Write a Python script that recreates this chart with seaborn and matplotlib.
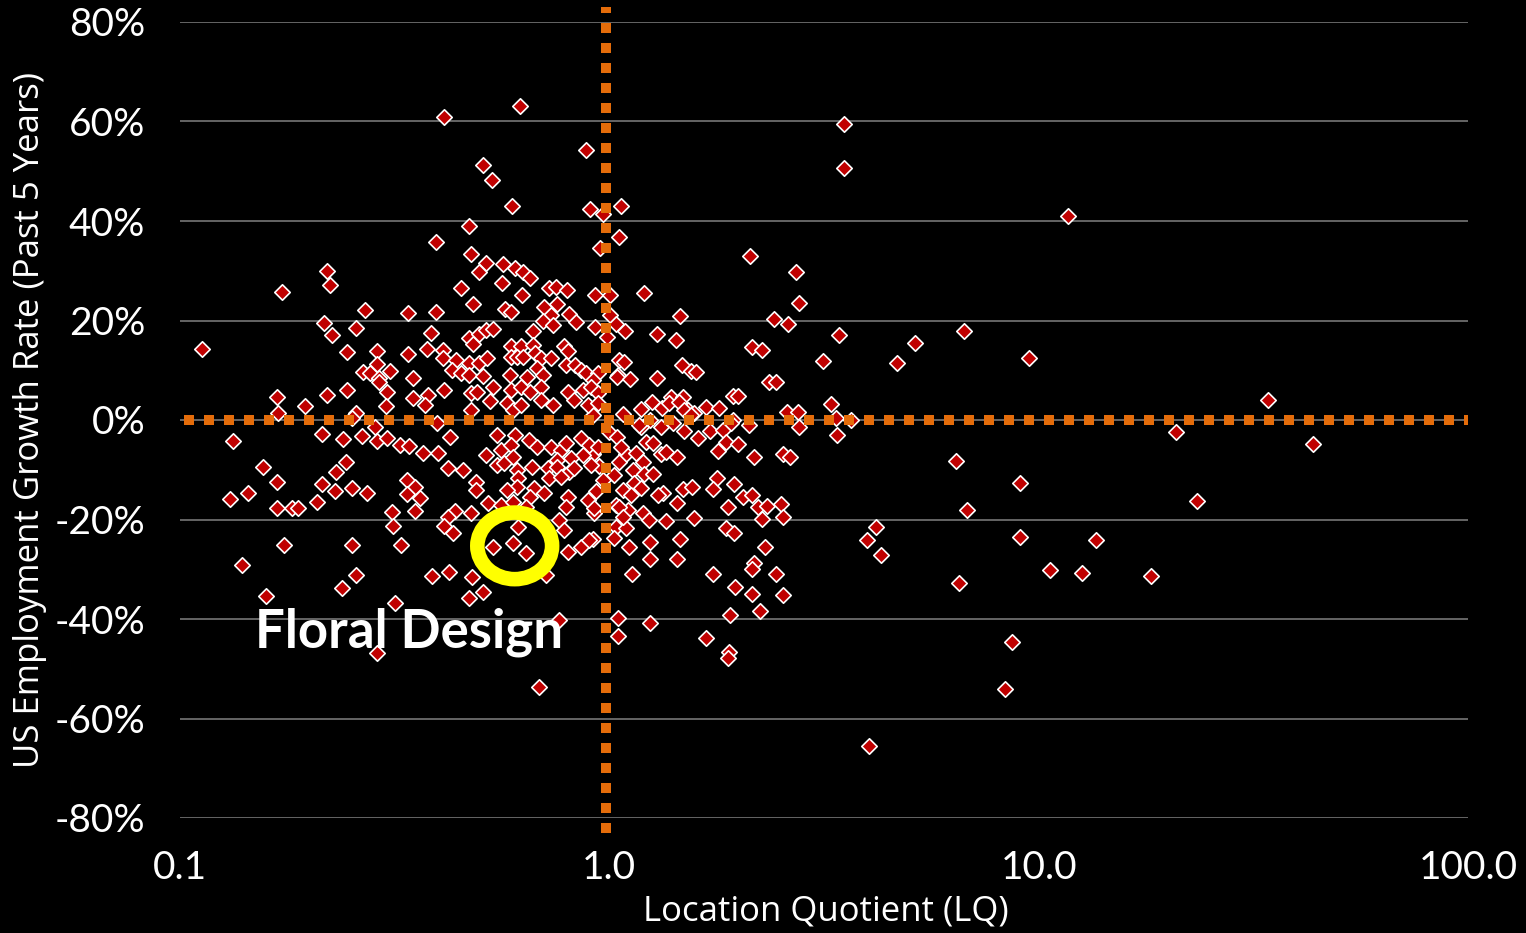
import matplotlib
matplotlib.use("Agg")
import matplotlib.pyplot as plt
import numpy as np
import pandas as pd
import seaborn as sns
from matplotlib.path import Path
from matplotlib.transforms import Affine2D
from matplotlib.ticker import FixedLocator, NullLocator, FuncFormatter

# ---------------- data (LQ, growth %) ----------------
pts_far_left = [
    (0.1125, 14.3), (0.173, 25.7), (0.220, 30.0), (0.224, 27.1), (0.217, 19.5), (0.226, 17.1),
    (0.257, 18.5), (0.270, 22.1), (0.245, 13.7), (0.287, 13.9), (0.267, 9.6), (0.277, 9.4),
    (0.287, 11.3), (0.309, 9.8), (0.290, 8.4), (0.340, 21.5), (0.340, 13.3), (0.349, 8.4),
    (0.377, 14.3),
    (0.168, 4.6), (0.169, 1.4), (0.195, 2.8), (0.220, 5.0), (0.245, 6.0), (0.290, 7.6),
    (0.304, 5.6), (0.302, 2.8), (0.257, 1.4), (0.252, 0.4), (0.285, -1.4), (0.288, -4.2),
    (0.304, -3.6), (0.266, -3.2), (0.240, -3.8), (0.214, -2.8), (0.133, -4.2), (0.326, -5.0),
    (0.342, -5.2), (0.156, -9.4), (0.168, -12.5), (0.131, -15.9), (0.144, -14.7), (0.168, -17.7),
    (0.182, -17.7), (0.188, -17.7), (0.208, -16.5), (0.214, -12.9), (0.231, -10.5), (0.244, -8.4),
    (0.230, -14.3), (0.251, -13.7), (0.272, -14.7), (0.312, -18.5), (0.314, -21.3), (0.338, -12.1),
    (0.353, -13.5), (0.338, -14.9), (0.363, -15.7), (0.353, -18.3), (0.175, -25.1), (0.251, -25.1),
    (0.328, -25.1), (0.1395, -29.1), (0.257, -31.2), (0.239, -33.8), (0.159, -35.4), (0.317, -36.8),
    (0.288, -46.8),
]

pts_upper_mid = [
    (0.413, 60.9), (0.618, 63.1), (0.881, 54.3), (0.509, 51.3), (0.534, 48.2), (0.592, 43.0),
    (0.900, 42.4), (0.965, 41.4), (1.063, 43.0), (0.472, 39.0), (0.395, 35.8), (1.052, 36.8),
    (0.950, 34.6), (0.477, 33.4), (0.515, 31.6), (0.496, 29.7), (0.564, 31.4), (0.604, 30.6),
    (0.628, 29.7), (0.652, 28.5), (0.452, 26.5), (0.561, 27.5), (0.625, 25.1), (0.722, 26.5),
    (0.750, 26.7), (0.795, 26.1), (0.924, 25.1), (1.002, 25.1), (0.482, 23.3), (0.395, 21.7),
    (0.570, 22.3), (0.589, 21.7), (0.703, 22.7), (0.730, 21.1), (0.757, 23.3), (0.804, 21.3),
    (0.837, 19.7), (0.699, 19.9), (0.740, 19.1), (0.665, 17.9), (0.924, 18.7), (1.002, 21.1),
    (1.035, 19.3), (1.086, 17.9), (0.986, 16.7), (0.385, 17.5), (0.409, 14.1), (0.409, 12.5),
    (0.440, 12.1), (0.472, 16.5), (0.482, 15.3), (0.496, 17.3), (0.515, 18.1), (0.537, 18.3),
    (0.589, 14.9), (0.621, 14.9), (0.665, 15.1), (0.783, 14.9), (0.800, 13.9), (0.589, 12.7),
    (0.610, 12.7), (0.631, 12.7), (0.670, 13.5), (0.692, 12.5), (0.730, 12.5), (0.470, 11.5),
    (0.496, 11.5), (0.518, 12.5), (0.431, 10.1), (0.452, 9.4), (0.470, 9.0), (0.509, 8.8),
    (0.586, 9.0), (0.642, 8.6), (0.677, 10.5), (0.699, 9.0), (0.791, 11.1), (0.830, 11.1),
    (0.858, 10.1), (0.881, 9.4), (0.940, 9.4), (1.051, 12.1), (1.080, 11.7), (1.046, 9.0),
]

pts_upper_right = [
    (2.126, 33.0), (2.723, 29.7), (2.767, 23.5), (1.203, 25.5), (1.460, 20.9), (2.414, 20.3),
    (2.608, 19.3), (1.290, 17.3), (1.428, 16.1), (3.431, 17.1), (2.150, 14.7), (2.268, 14.1),
    (3.149, 11.9), (1.476, 11.1), (1.549, 9.8), (1.591, 9.6), (1.040, 8.6), (1.116, 8.2),
    (1.290, 8.4), (2.355, 7.6), (2.444, 7.6), (0.915, 8.0), (1.391, 4.6), (1.484, 4.6),
    (1.255, 3.6), (1.184, 2.2), (1.325, 2.4), (1.678, 2.6), (1.800, 2.4), (1.937, 4.8),
    (1.994, 4.8), (3.287, 3.2), (2.594, 1.6), (2.752, 1.6), (1.524, 2.0), (1.574, 1.4),
    (1.074, 1.2), (1.243, 0.0), (1.184, -1.4), (1.937, 0.0), (3.374, 0.4), (2.767, -1.4),
]

pts_lower_right = [
    (1.376, 3.4), (1.452, 3.6), (1.492, 2.0), (1.549, 1.0), (0.915, 1.0), (1.171, -1.0),
    (1.318, -1.4), (1.410, -0.6), (1.492, -2.2), (1.715, -2.2), (1.840, -2.0), (1.920, -0.6),
    (2.115, -1.0), (3.394, -3.0), (0.997, -2.4), (1.040, -3.4), (1.216, -4.4), (1.263, -4.6),
    (1.608, -3.6), (1.869, -4.4), (1.994, -4.8), (1.791, -6.2), (0.915, -6.8), (1.092, -6.8),
    (1.151, -6.6), (1.051, -8.4), (1.197, -8.4), (1.318, -6.8), (1.354, -6.4), (1.441, -7.4),
    (2.170, -7.4), (2.539, -6.8), (2.637, -7.4), (0.944, -9.2), (1.024, -11.1), (1.134, -10.1),
    (1.203, -10.9), (1.263, -10.9), (0.966, -12.1), (1.140, -12.7), (1.780, -11.7), (1.948, -12.9),
    (1.743, -13.9), (1.484, -13.9), (1.557, -13.5), (1.074, -14.1), (1.122, -15.1), (1.184, -13.7),
    (1.332, -14.7), (1.297, -15.1), (2.048, -15.5), (2.150, -15.1), (0.930, -14.3), (1.441, -16.7),
    (1.890, -17.5), (2.220, -17.5), (2.332, -17.3), (2.512, -16.9), (1.035, -17.1), (1.104, -18.1),
    (0.920, -18.7), (1.197, -18.7), (1.236, -20.1), (1.354, -20.3), (1.574, -19.7), (2.268, -19.9),
    (2.539, -19.5), (1.035, -21.5), (1.092, -21.7), (1.869, -21.7), (1.948, -22.7), (1.024, -23.7),
    (0.915, -23.9), (1.110, -25.5), (1.243, -24.5), (1.460, -23.9), (2.305, -25.5), (1.243, -27.9),
    (1.441, -27.9), (2.170, -28.7), (2.150, -29.9), (2.444, -31.0), (1.128, -31.0), (1.743, -31.0),
    (1.961, -33.6), (2.150, -35.0), (2.539, -35.2), (2.245, -38.4), (1.910, -39.2), (1.046, -39.8),
    (1.243, -40.8), (1.046, -43.4), (1.678, -43.8), (1.900, -46.6), (1.890, -47.8),
]

pts_lower_mid = [
    (0.348, 4.4), (0.379, 5.0), (0.373, 3.0), (0.411, 6.0), (0.475, 5.4), (0.493, 5.6),
    (0.526, 3.8), (0.537, 6.6), (0.477, 2.0), (0.579, 3.4), (0.598, 2.0), (0.621, 3.0),
    (0.589, 6.0), (0.621, 6.6), (0.655, 5.6), (0.692, 6.6), (0.692, 4.0), (0.738, 3.0),
    (0.800, 5.6), (0.826, 4.0), (0.867, 6.0), (0.905, 6.6), (0.940, 5.4), (0.890, 3.0),
    (0.940, 3.4), (0.396, -0.6), (0.4265, -3.4), (0.369, -6.6), (0.398, -6.6), (0.420, -9.6),
    (0.457, -10.1), (0.548, -3.0), (0.604, -3.0), (0.649, -4.0), (0.680, -5.4), (0.515, -7.0),
    (0.558, -6.0), (0.589, -5.0), (0.548, -9.0), (0.567, -8.6), (0.611, -10.1), (0.662, -9.4),
    (0.614, -11.7), (0.611, -13.5), (0.595, -7.4), (0.730, -5.4), (0.770, -6.0), (0.757, -8.0),
    (0.791, -4.6), (0.719, -9.6), (0.757, -9.4), (0.804, -10.5), (0.722, -11.7), (0.770, -11.5),
    (0.858, -3.6), (0.895, -5.0), (0.940, -5.4), (0.867, -7.0), (0.905, -9.0), (0.813, -7.6),
    (0.826, -9.6), (1.063, -5.4), (0.488, -12.5), (0.488, -14.1), (0.579, -14.1), (0.666, -13.7),
    (0.703, -14.7), (0.800, -15.5), (0.791, -17.5), (0.523, -16.7), (0.558, -17.1), (0.595, -16.5),
    (0.655, -15.5), (0.638, -17.5), (0.890, -16.1), (0.920, -17.7), (0.475, -18.7), (0.438, -18.3),
    (0.422, -19.5), (0.413, -21.3), (0.433, -22.7), (0.387, -31.4), (0.424, -30.6), (0.480, -31.6),
    (0.614, -21.5), (0.762, -20.1), (0.783, -22.1), (1.051, -17.5), (1.074, -19.5), (0.858, -25.5),
    (0.895, -24.1), (0.800, -26.5), (0.537, -25.5), (0.598, -24.7), (0.638, -26.7), (0.711, -31.2),
    (0.509, -34.6), (0.470, -35.8), (0.762, -40.2), (0.684, -53.7),
]

pts_high_lq = [
    (3.525, 59.5), (3.525, 50.7), (3.66, 0.0), (5.16, 15.5), (4.685, 11.5), (6.716, 17.9),
    (9.475, 12.5), (11.68, 41.0), (6.434, -8.2), (6.826, -18.1), (6.54, -32.8), (9.03, -12.7),
    (9.03, -23.5), (8.69, -44.6), (8.33, -54.1), (10.6, -30.2), (12.6, -30.8), (13.58, -24.1),
    (18.25, -31.4), (20.9, -2.4), (23.4, -16.3), (34.2, 4.0), (43.6, -4.8), (4.03, -65.5),
    (3.99, -24.1), (4.19, -21.5), (4.30, -27.1),
]

x_ticks = [0.1, 1.0, 10.0, 100.0]
y_ticks = [-80, -60, -40, -20, 0, 20, 40, 60, 80]
x_label = "Location Quotient (LQ)"
y_label = "US Employment Growth Rate (Past 5 Years)"
highlight_name = "Floral Design"
highlight_lq, highlight_growth = 0.602, -25.3
label_lq, label_growth = 0.1496, -45.8
ref_lq, ref_growth = 0.98, 0.0

# ---------------- build frame ----------------
all_pts = pts_far_left + pts_upper_mid + pts_upper_right + pts_lower_right + pts_lower_mid + pts_high_lq
df = pd.DataFrame(all_pts, columns=["lq", "growth"])

# ---------------- styling ----------------
sns.set_style("dark", {"axes.facecolor": "black", "figure.facecolor": "black",
                       "grid.color": "#808080", "text.color": "white",
                       "xtick.color": "white", "ytick.color": "white"})
plt.rcParams["font.family"] = ["Lato", "DejaVu Sans"]

W, H = 1526, 933
fig = plt.figure(figsize=(W / 100, H / 100), dpi=100)
fig.patch.set_facecolor("black")
ax = fig.add_axes([180 / W, 1 - 818 / H, (1468 - 180) / W, (818 - 22) / H])
ax.set_facecolor("black")

sns.scatterplot(data=df, x="lq", y="growth", ax=ax, marker="D", s=62,
                color="#C00000", edgecolor="white", linewidth=1.2, zorder=3, legend=False)

ax.set_xscale("log")
ax.set_xlim(0.1, 100)
ax.set_ylim(-80, 80)
ax.xaxis.set_major_locator(FixedLocator(x_ticks))
ax.xaxis.set_minor_locator(NullLocator())
ax.xaxis.set_major_formatter(FuncFormatter(lambda v, p: f"{v:.1f}"))
ax.yaxis.set_major_locator(FixedLocator(y_ticks))
ax.yaxis.set_major_formatter(FuncFormatter(lambda v, p: f"{v:.0f}%"))
ax.grid(False)
ax.yaxis.grid(True, color="#808080", linewidth=1.1, zorder=1)
ax.set_axisbelow(True)
for s in ax.spines.values():
    s.set_visible(False)
ax.tick_params(axis="both", length=0, colors="white", labelsize=28)
ax.tick_params(axis="y", pad=25)
ax.tick_params(axis="x", pad=23)
ax.set_xlabel("")
ax.set_ylabel("")

orange = "#E46C0A"
ax.axhline(ref_growth, xmin=0.003, color=orange, linewidth=7.2, dashes=(1, 1), zorder=4,
           dash_capstyle="butt")
ax.plot([ref_lq, ref_lq], [-83, 83], color=orange, linewidth=7.2, dashes=(1, 1),
        zorder=4, clip_on=False, dash_capstyle="butt")

ell = Affine2D().scale(1.0, 0.89).transform_path(Path.unit_circle())
ax.scatter([highlight_lq], [highlight_growth], marker=ell, s=2900, facecolors="none",
           edgecolors="#FFFF00", linewidths=10.5, zorder=5)

ax.text(label_lq, label_growth, highlight_name, ha="left", va="baseline",
        fontsize=38, fontweight="bold", color="white", zorder=6)

fig.text(30 / W, 1 - 420 / H, y_label, rotation=90, ha="center", va="center",
         fontsize=25, color="white", family=["Open Sans", "DejaVu Sans"])
fig.text(826 / W, 1 - 912 / H, x_label, ha="center", va="center",
         fontsize=25, color="white", family=["Open Sans", "DejaVu Sans"])

fig.savefig("out.png", dpi=100, facecolor="black")
